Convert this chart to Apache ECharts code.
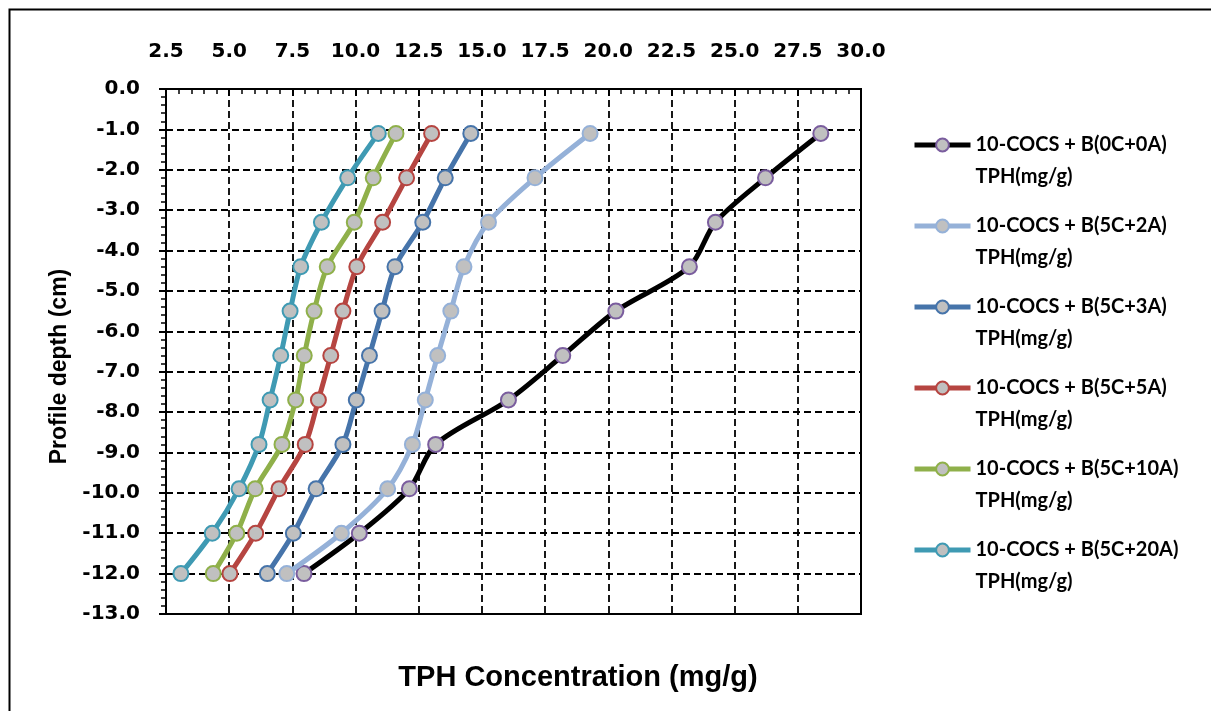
<!DOCTYPE html>
<html>
<head>
<meta charset="utf-8">
<script src="https://cdn.jsdelivr.net/npm/echarts@6/dist/echarts.min.js"></script>
<style>
html,body{margin:0;padding:0;background:#fff;}
#chart{width:1211px;height:711px;}
</style>
</head>
<body>
<div id="chart"></div>
<script>
const depths = [-1.1, -2.2, -3.3, -4.4, -5.5, -6.6, -7.7, -8.8, -9.9, -11.0, -12.0];
const s0C0A  = [28.41, 26.22, 24.24, 23.21, 20.30, 18.20, 16.05, 13.17, 12.13, 10.15, 7.96];
const s5C2A  = [19.28, 17.10, 15.26, 14.29, 13.77, 13.25, 12.76, 12.25, 11.27, 9.44, 7.28];
const s5C3A  = [14.56, 13.55, 12.66, 11.56, 11.05, 10.55, 10.03, 9.50, 8.44, 7.54, 6.51];
const s5C5A  = [13.01, 12.02, 11.07, 10.05, 9.50, 9.02, 8.53, 8.01, 6.97, 6.05, 5.03];
const s5C10A = [11.60, 10.70, 9.95, 8.88, 8.36, 7.97, 7.63, 7.09, 6.03, 5.30, 4.37];
const s5C20A = [10.90, 9.69, 8.65, 7.83, 7.41, 7.04, 6.62, 6.18, 5.39, 4.33, 3.09];
const seriesNames = ['10-COCS + B(0C+0A)', '10-COCS + B(5C+2A)', '10-COCS + B(5C+3A)',
                     '10-COCS + B(5C+5A)', '10-COCS + B(5C+10A)', '10-COCS + B(5C+20A)'];
const legendSuffix = 'TPH(mg/g)';
const xTitle = 'TPH Concentration (mg/g)';
const yTitle = 'Profile depth (cm)';

const seriesValues = [s0C0A, s5C2A, s5C3A, s5C5A, s5C10A, s5C20A];
const lineColors = ['#000000', '#95b1d8', '#4674aa', '#b64541', '#8fb04a', '#3f9ab3'];
const markerBorders = ['#7a5d9e', '#95b1d8', '#4674aa', '#b64541', '#8fb04a', '#3f9ab3'];

const chart = echarts.init(document.getElementById('chart'));
const series = seriesValues.map((vals, i) => ({
  name: seriesNames[i],
  type: 'line',
  smooth: 0.3,
  data: vals.map((v, j) => [v, depths[j]]),
  symbol: 'circle',
  symbolSize: 15,
  lineStyle: { color: lineColors[i], width: 5 },
  itemStyle: { color: '#c0c0c0', borderColor: markerBorders[i], borderWidth: 2 },
  emphasis: { disabled: true },
  z: 3 + i
}));

const legends = seriesNames.map((nm, i) => ({
  left: 912, top: 135 + i * 81, orient: 'vertical', padding: 0,
  itemWidth: 56, itemHeight: 16, itemGap: 0,
  data: [nm],
  lineStyle: { width: 5 },
  formatter: name => `{a|${name}}\n{b|${legendSuffix}}`,
  textStyle: {
    fontFamily: 'Lato', fontWeight: 'bold', fontSize: 20, color: '#000',
    padding: [17, 0, 0, 0],
    rich: {
      a: { fontFamily: 'Lato', fontWeight: 'bold', fontSize: 20, color: '#000', lineHeight: 47 },
      b: { fontFamily: 'Lato', fontWeight: 'bold', fontSize: 20, color: '#000', lineHeight: 17 }
    }
  }
}));

const tickFont = { fontFamily: 'DejaVu Sans', fontWeight: 'bold', fontSize: 20, color: '#000' };

chart.setOption({
  animation: false,
  backgroundColor: '#ffffff',
  graphic: [{
    type: 'rect', left: 7, top: 7, silent: true,
    shape: { width: 1300, height: 800 },
    style: { fill: 'none', stroke: '#000', lineWidth: 2 }
  }],
  title: {
    text: xTitle, left: 573, top: 658, textAlign: 'center',
    textStyle: { fontFamily: 'Liberation Sans', fontWeight: 'bold', fontSize: 29, color: '#000' }
  },
  grid: { left: 166, top: 89, right: 350, bottom: 97, show: true, borderColor: '#000', borderWidth: 2 },
  legend: legends,
  xAxis: {
    type: 'value', position: 'top', min: 2.5, max: 30, interval: 2.5,
    axisLine: { show: true, onZero: false, lineStyle: { color: '#000', width: 2 } },
    axisTick: { show: true, inside: true, length: 7, lineStyle: { color: '#000', width: 2 } },
    minorTick: { show: true, splitNumber: 5, length: 5, lineStyle: { color: '#000', width: 1.5 } },
    splitLine: { show: true, lineStyle: { color: '#000', width: 1.8, type: [7, 4] } },
    axisLabel: Object.assign({ margin: 27, formatter: v => v.toFixed(1) }, tickFont)
  },
  yAxis: {
    type: 'value', min: -13, max: 0, interval: 1,
    name: yTitle, nameLocation: 'middle', nameGap: 88, nameRotate: 90,
    nameTextStyle: { fontFamily: 'Liberation Sans', fontWeight: 'bold', fontSize: 23, color: '#000',
      padding: [0, 30, 0, 0] },
    axisLine: { show: true, onZero: false, lineStyle: { color: '#000', width: 2 } },
    axisTick: { show: true, inside: false, length: 7, lineStyle: { color: '#000', width: 2 } },
    minorTick: { show: true, splitNumber: 5, length: 5, lineStyle: { color: '#000', width: 1.5 } },
    splitLine: { show: true, lineStyle: { color: '#000', width: 1.8, type: [7, 4] } },
    axisLabel: Object.assign({ margin: 26, formatter: v => v.toFixed(1) }, tickFont)
  },
  series: series
});
</script>
</body>
</html>
